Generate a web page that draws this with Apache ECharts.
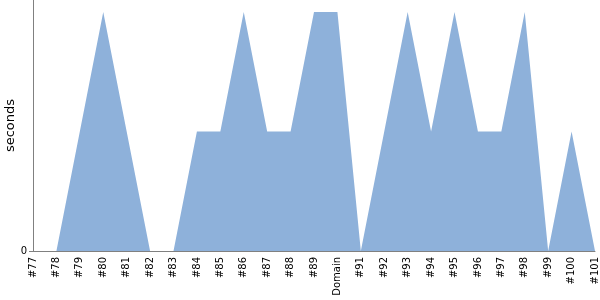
<!DOCTYPE html>
<html><head><meta charset="utf-8">
<script src="https://cdn.jsdelivr.net/npm/echarts@6/dist/echarts.min.js"></script>
<style>html,body{margin:0;padding:0;background:#fff}#c{width:600px;height:300px}</style>
</head><body><div id="c"></div>
<script>
const categories = ['#77','#78','#79','#80','#81','#82','#83','#84','#85','#86','#87','#88','#89','Domain','#91','#92','#93','#94','#95','#96','#97','#98','#99','#100','#101'];
const seconds = [0,0,1,2,1,0,0,1,1,2,1,1,2,2,0,1,2,1,2,1,1,2,0,1,0];
const yMax = 2.1;
const chart = echarts.init(document.getElementById('c'), null, {renderer:'canvas'});
chart.setOption({
  animation:false,
  grid:{left:33,right:5,top:0,bottom:49,containLabel:false,outerBoundsMode:'none'},
  xAxis:{type:'category',data:categories,boundaryGap:false,
    axisLine:{lineStyle:{color:'#808080'}},
    axisTick:{show:false},
    axisLabel:{rotate:90,interval:0,color:'#000',fontFamily:'DejaVu Sans',fontSize:10,margin:6}},
  yAxis:{type:'value',min:0,max:yMax,interval:yMax,
    name:'seconds',nameLocation:'middle',nameGap:16,nameRotate:90,nameMoveOverlap:false,
    nameTextStyle:{color:'#000',fontFamily:'DejaVu Sans',fontSize:13},
    splitLine:{show:false},
    axisLine:{show:true,lineStyle:{color:'#808080'}},
    axisTick:{show:true,length:4,lineStyle:{color:'#808080'}},
    axisLabel:{showMaxLabel:false,color:'#000',fontFamily:'DejaVu Sans',fontSize:10,margin:6}},
  series:[{type:'line',data:seconds,showSymbol:false,symbol:'none',
    lineStyle:{width:0},areaStyle:{color:'#8eb1da',opacity:1}}]
});
</script></body></html>
